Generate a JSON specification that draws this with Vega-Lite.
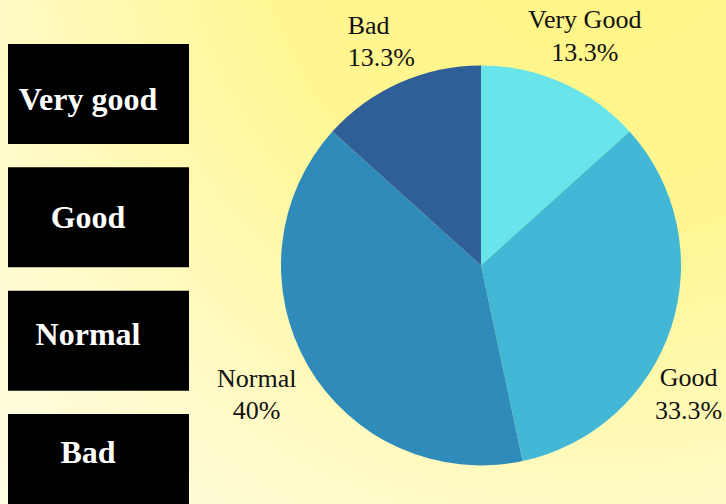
{
  "$schema": "https://vega.github.io/schema/vega-lite/v6.json",
  "width": 726,
  "height": 504,
  "autosize": {"type": "none"},
  "padding": 0,
  "background": "#fffbe0",
  "view": {
    "stroke": null,
    "fill": {
      "gradient": "radial",
      "x1": 0.82, "y1": 0.02, "r1": 0,
      "x2": 0.82, "y2": 0.02, "r2": 1.3,
      "stops": [
        {"offset": 0, "color": "#fff584"},
        {"offset": 0.35, "color": "#fff692"},
        {"offset": 0.65, "color": "#fffac6"},
        {"offset": 1, "color": "#fffef2"}
      ]
    }
  },
  "datasets": {
    "keys": [
      {"key": "Very good"},
      {"key": "Good"},
      {"key": "Normal"},
      {"key": "Bad"}
    ],
    "ratings": [
      {"label": "Very Good", "share": 0.1333, "rank": 1},
      {"label": "Good", "share": 0.3333, "rank": 2},
      {"label": "Normal", "share": 0.4, "rank": 3},
      {"label": "Bad", "share": 0.1333, "rank": 4}
    ]
  },
  "resolve": {"scale": {"y": "independent"}},
  "layer": [
    {
      "data": {"name": "keys"},
      "mark": {"type": "rect", "color": "#000000"},
      "encoding": {
        "x": {"datum": 8, "type": "quantitative", "scale": {"domain": [0, 726], "nice": false, "zero": false}, "axis": null},
        "x2": {"datum": 189},
        "y": {
          "field": "key", "type": "nominal", "axis": null,
          "scale": {"domain": ["Very good", "Good", "Normal", "Bad"], "range": [44, 514], "paddingInner": 0.19, "paddingOuter": 0}
        }
      }
    },
    {
      "data": {"name": "keys"},
      "mark": {"type": "text", "font": "Liberation Serif", "fontWeight": "bold", "fontSize": 32, "color": "#ffffff", "align": "center", "baseline": "alphabetic", "dy": 7.7},
      "encoding": {
        "x": {"datum": 88, "type": "quantitative", "axis": null},
        "y": {
          "field": "key", "type": "nominal", "axis": null,
          "scale": {"domain": ["Very good", "Good", "Normal", "Bad"], "range": [44, 514], "paddingInner": 0.19, "paddingOuter": 0}
        },
        "text": {"field": "key"}
      }
    },
    {
      "data": {"name": "ratings"},
      "mark": {"type": "arc", "outerRadius": 200},
      "encoding": {
        "x": {"datum": 481, "type": "quantitative", "axis": null},
        "y": {"datum": 265.4, "type": "quantitative", "scale": {"domain": [0, 504], "reverse": true, "nice": false, "zero": false}, "axis": null},
        "theta": {"field": "share", "type": "quantitative", "stack": true},
        "order": {"field": "rank"},
        "color": {
          "field": "label", "type": "nominal", "legend": null,
          "scale": {"domain": ["Very Good", "Good", "Normal", "Bad"], "range": ["#68e4ea", "#42b7d6", "#2e8bba", "#2f5f98"]}
        }
      }
    },
    {
      "data": {"name": "ratings"},
      "mark": {
        "type": "text", "font": "Liberation Serif", "fontSize": 26, "color": "#111111",
        "baseline": "alphabetic",
        "align": {"expr": "datum.label === 'Bad' ? 'left' : 'center'"},
        "radius": {"expr": "datum.label === 'Normal' ? 259 : datum.label === 'Bad' ? 249 : 255"},
        "dx": {"expr": "datum.label === 'Good' ? -35 : datum.label === 'Bad' ? -32 : 0"},
        "dy": {"expr": "datum.label === 'Good' ? 42 : datum.label === 'Normal' ? -8 : -4"}
      },
      "encoding": {
        "x": {"datum": 481, "type": "quantitative", "axis": null},
        "y": {"datum": 265.4, "type": "quantitative", "scale": {"domain": [0, 504], "reverse": true, "nice": false, "zero": false}, "axis": null},
        "theta": {"field": "share", "type": "quantitative", "stack": true},
        "order": {"field": "rank"},
        "text": {"field": "label"}
      }
    },
    {
      "data": {"name": "ratings"},
      "mark": {
        "type": "text", "font": "Liberation Serif", "fontSize": 26, "color": "#111111",
        "baseline": "alphabetic",
        "align": {"expr": "datum.label === 'Bad' ? 'left' : 'center'"},
        "radius": {"expr": "datum.label === 'Normal' ? 259 : datum.label === 'Bad' ? 249 : 255"},
        "dx": {"expr": "datum.label === 'Good' ? -35 : datum.label === 'Bad' ? -32 : 0"},
        "dy": {"expr": "datum.label === 'Good' ? 74.5 : datum.label === 'Normal' ? 24.5 : 28.5"}
      },
      "encoding": {
        "x": {"datum": 481, "type": "quantitative", "axis": null},
        "y": {"datum": 265.4, "type": "quantitative", "scale": {"domain": [0, 504], "reverse": true, "nice": false, "zero": false}, "axis": null},
        "theta": {"field": "share", "type": "quantitative", "stack": true},
        "order": {"field": "rank"},
        "text": {"field": "share", "format": ".1~%"}
      }
    }
  ]
}
